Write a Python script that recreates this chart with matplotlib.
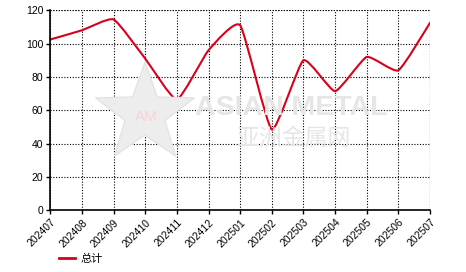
import numpy as np
import matplotlib
matplotlib.use("Agg")
import matplotlib.pyplot as plt
from matplotlib.path import Path
from matplotlib.patches import PathPatch, Polygon
from matplotlib.lines import Line2D

categories = ["202407", "202408", "202409", "202410", "202411", "202412", "202501",
              "202502", "202503", "202504", "202505", "202506", "202507"]
values = [102.5, 108, 114.5, 91, 66.5, 96, 111, 48.5, 90, 71.5, 92, 84, 112.5]
series_name = "总计"
yticks = [0, 20, 40, 60, 80, 100, 120]

plt.rcParams['font.family'] = ['Liberation Sans', 'Noto Sans CJK SC', 'DejaVu Sans']

W, H = 466, 272
fig = plt.figure(figsize=(W/100, H/100), dpi=100)
ax = fig.add_axes([50.3/W, 1-210.3/H, (430-50.3)/W, 200/H])

# watermark (figure-level, behind axes content)
cx, cy = 145/W, 1-114/H
ang = np.pi/2 + np.arange(10) * np.pi/5
rad = np.where(np.arange(10) % 2 == 0, 52, 21)
star = np.column_stack([cx + rad*np.cos(ang)/W, cy + rad*np.sin(ang)/H])
fig.patches.append(Polygon(star, closed=True, transform=fig.transFigure,
                           facecolor='#ededed', edgecolor='#e3e3e3', lw=1, zorder=0))
fig.text(146/W, 1-117/H, "AM", fontsize=11, color='#f6d4d8', ha='center', va='center', zorder=0.5)
fig.text(291/W, 1-108/H, "ASIAN METAL", fontsize=20.5, fontweight='bold', color='#e6e6e6',
         ha='center', va='center', zorder=0)
fig.text(294/W, 1-138/H, "亚洲金属网", fontsize=16.5, color='#e6e6e6',
         ha='center', va='center', family=['Noto Sans CJK SC'], zorder=0)
ax.set_facecolor('none')

x = np.arange(len(categories), dtype=float)
y = np.array(values, dtype=float)

# low-tension cardinal spline through the data points
k = 0.08
P = np.column_stack([x, y])
Pext = np.vstack([P[0], P, P[-1]])
T = Pext[2:] - Pext[:-2]
verts = [tuple(P[0])]
codes = [Path.MOVETO]
for i in range(len(P) - 1):
    verts += [tuple(P[i] + k*T[i]), tuple(P[i+1] - k*T[i+1]), tuple(P[i+1])]
    codes += [Path.CURVE4] * 3
ax.add_patch(PathPatch(Path(verts, codes), facecolor='none', edgecolor='#D9001B', lw=1.5,
                       zorder=3, capstyle='round', joinstyle='round'))

ax.set_xlim(0, len(categories) - 1)
ax.set_ylim(0, 120)
ax.set_xticks(x)
ax.set_xticklabels(categories, rotation=45, ha='right', rotation_mode='anchor')
ax.set_yticks(yticks)
ax.tick_params(axis='both', direction='out', length=3, width=1, labelsize=7.5, pad=2, colors='black')
ax.grid(True, color='black', linestyle=(0, (1, 1.5)), linewidth=0.8)
ax.set_axisbelow(True)
for s in ['top', 'right']:
    ax.spines[s].set_visible(False)
for s in ['left', 'bottom']:
    ax.spines[s].set_linewidth(1.2)
    ax.spines[s].set_zorder(4)
ax.axhline(120, color='black', linestyle=(0, (1, 1.5)), linewidth=0.8, zorder=1)
ax.axvline(len(categories) - 1, color='black', linestyle=(0, (1, 1.5)), linewidth=0.8, zorder=1)

handle = Line2D([], [], color='#D9001B', lw=2)
fig.legend([handle], [series_name], loc='center left', bbox_to_anchor=(49/W, 1-259/H),
           frameon=False, handlelength=1.45, handletextpad=0.45,
           prop={'family': ['Noto Sans CJK SC'], 'size': 8})

fig.savefig("out.png", dpi=100)
